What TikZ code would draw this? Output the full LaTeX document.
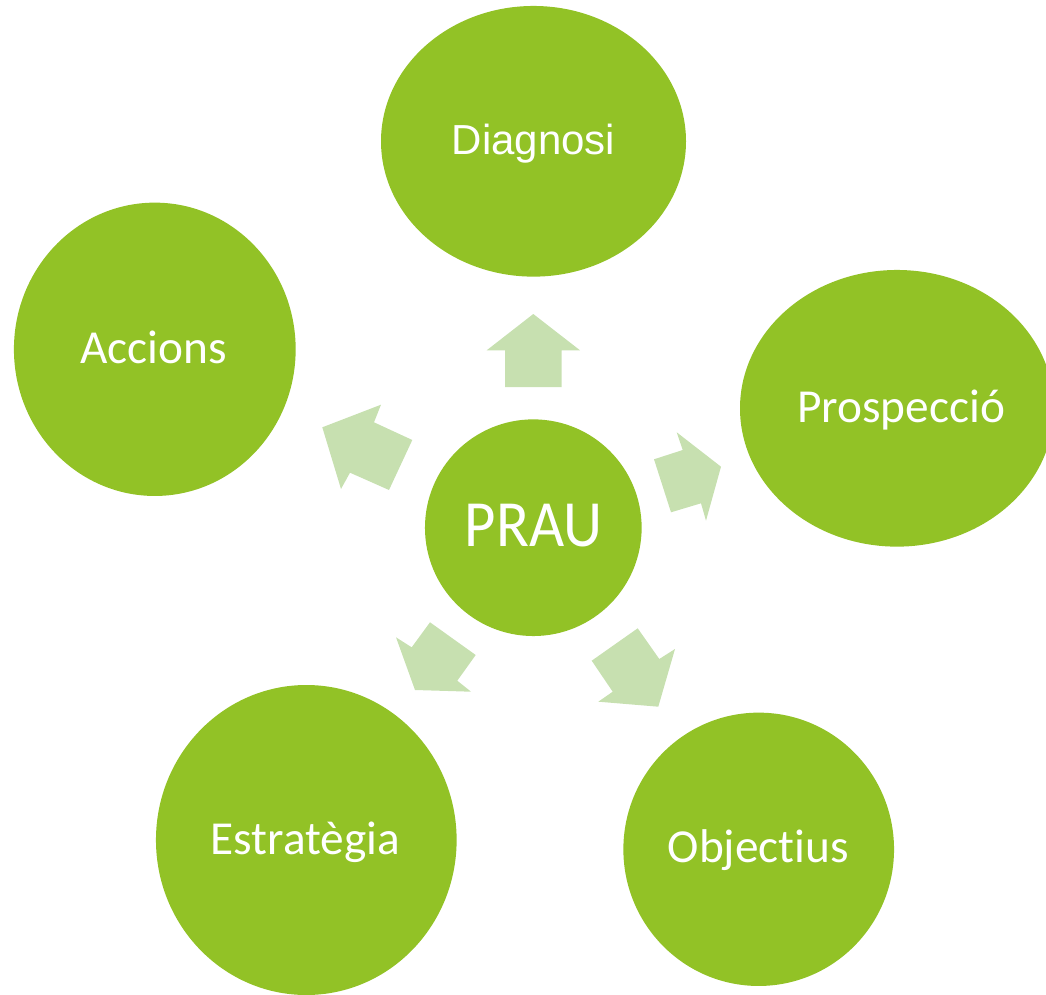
\documentclass[tikz,border=0pt]{standalone}
\usepackage{fontspec}
\setmainfont{Carlito}[Ligatures={NoCommon,NoDiscretionary,NoContextual}]
\newfontfamily\diagfont{Liberation Sans}
\usetikzlibrary{shapes.geometric}
\definecolor{leaf}{HTML}{92C226}
\definecolor{pale}{HTML}{C7E0B0}
\tikzset{
  blob/.style={ellipse, fill=leaf, draw=none, inner sep=0pt, outer sep=0pt},
  lbl/.style={anchor=base, text=white, inner sep=0pt, font=\fontsize{35.5}{40}\selectfont},
  blockarrow/.style={fill=pale, draw=none}
}
\begin{document}
\begin{tikzpicture}[x=0.75pt,y=-0.75pt]
\useasboundingbox (0,0) rectangle (1046,995);
\clip (0,0) rectangle (1046,995);

% outer ellipses
\node[blob, minimum width=228.75pt, minimum height=203pt] (diag) at (533.5,141.3) {};
\node[blob, minimum width=235.5pt, minimum height=207.5pt] (prosp) at (897,408.3) {};
\node[blob, minimum width=211.3pt, minimum height=220pt] (acc) at (154.8,349.3) {};
\node[blob, minimum width=225.5pt, minimum height=232.5pt] (estr) at (306.3,840) {};
\node[blob, minimum width=203pt, minimum height=205pt] (obj) at (758.7,849.3) {};
% centre
\node[blob, circle, minimum size=162.5pt] (prau) at (533.3,527.7) {};

% labels
\node[lbl, font=\diagfont\fontsize{31.5}{36}\selectfont] (tdiag) at (533.5,155) {Diagnosi};
\node[lbl] (tprosp) at (901,422.7) {Prospecció};
\node[lbl] (tacc) at (153.7,363.3) {Accions};
\node[lbl] (testr) at (305.5,854) {Estratègia};
\node[lbl] (tobj) at (758.3,862.7) {Objectius};
\node[lbl, font=\fontsize{49.5}{56}\selectfont] (tprau) at (533.7,546) {\scalebox{0.92}[1]{PRAU}};

% block arrows
\fill[blockarrow] (533.3,314) -- (580,350.3) -- (561.7,350.3) -- (561.7,387) -- (505,387) -- (505,350.3) -- (486.7,350.3) -- cycle;
\fill[blockarrow] (721,466.7) -- (706,520.7) -- (701,503.3) -- (671,512.3) -- (654,459.3) -- (682.7,450) -- (676.7,432.3) -- cycle;
\fill[blockarrow] (658.3,706.7) -- (598.3,701.7) -- (612.7,691.7) -- (591.7,660.7) -- (637.7,628.3) -- (659.3,659) -- (675,649) -- cycle;
\fill[blockarrow] (415,690) -- (396,637.3) -- (411.7,647.3) -- (430,622.3) -- (475.7,655) -- (457.3,680.7) -- (471,691.7) -- cycle;
\fill[blockarrow] (322.3,427.3) -- (381,404.7) -- (374,422.3) -- (412.3,440) -- (389,490) -- (350,472.7) -- (341,489) -- cycle;
\end{tikzpicture}
\end{document}
